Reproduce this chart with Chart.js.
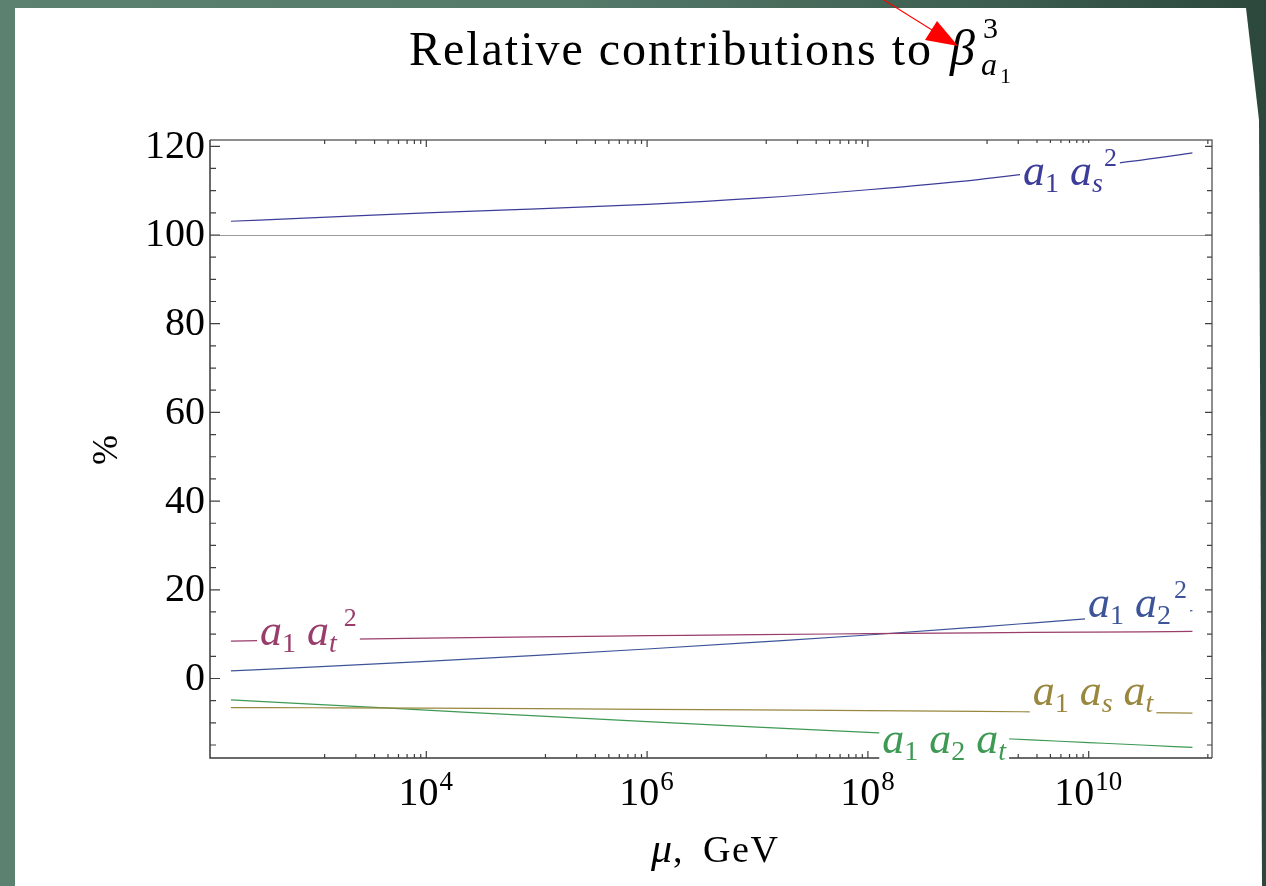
<!DOCTYPE html>
<html>
<head>
<meta charset="utf-8">
<script src="https://cdn.jsdelivr.net/npm/chart.js@4.4.0/dist/chart.umd.min.js"></script>
<style>
html,body{margin:0;padding:0;width:1266px;height:886px;overflow:hidden;background:#4c7262;}
#bg{position:absolute;left:0;top:0;width:1266px;height:886px;background:linear-gradient(90deg,#5c8171 0%,#557a6a 45%,#3b5c4e 80%,#2c483c 100%);}
#panel{position:absolute;left:0;top:0;width:1266px;height:886px;background:#fff;
  clip-path:polygon(15px 8px,1246px 8px,1259px 120px,1262px 886px,15px 886px);}
#c{position:absolute;left:0;top:0;}
</style>
</head>
<body>
<div id="bg"></div>
<div id="panel"></div>
<canvas id="c" width="1266" height="886"></canvas>
<script>
// ---------------- data ----------------
const mu      = [170, 1e3, 1e4, 1e5, 1e6, 1e7, 1e8, 1e9, 3e9, 1e10, 3e10, 8.7e10]; // GeV
const a1as2   = [103.1, 103.9, 105.0, 105.9, 106.9, 108.3, 110.2, 112.5, 113.9, 115.5, 116.9, 118.5];
const a1at2   = [8.42, 8.75, 9.1, 9.4, 9.65, 9.9, 10.1, 10.3, 10.38, 10.45, 10.52, 10.6];
const a1a22   = [1.73, 2.6, 3.84, 5.2, 6.65, 8.2, 9.8, 11.6, 12.5, 13.5, 14.4, 15.3];
const a1asat  = [-6.55, -6.6, -6.68, -6.8, -6.95, -7.1, -7.25, -7.42, -7.52, -7.63, -7.7, -7.8];
const a1a2at  = [-4.81, -5.83, -7.14, -8.45, -9.72, -10.95, -12.15, -13.3, -13.85, -14.45, -15.0, -15.55];
const refLine = 100;
const yMajorTicks = [0, 20, 40, 60, 80, 100, 120];
const yMinorTicks = [-15,-10,-5,5,10,15,25,30,35,45,50,55,65,70,75,85,90,95,105,110,115];
const xMajorExp = [4, 6, 8, 10];

// ---------------- styles ----------------
const SERIF = '"Liberation Serif","Times New Roman",serif';
const font = (s, it) => (it ? 'italic ' : '') + s + 'px ' + SERIF;
const COLORS = ['#3d3d99', '#993d6b', '#3d5499', '#99873d', '#3d9954'];

const seriesList = [a1as2, a1at2, a1a22, a1asat, a1a2at];
const datasets = seriesList.map((s, i) => ({
  data: mu.map((m, k) => ({x: m, y: s[k]})),
  borderColor: COLORS[i], borderWidth: 1.2, pointRadius: 0, fill: false,
  cubicInterpolationMode: 'monotone'
}));

// curve labels: anchor = left end of baseline, in data coordinates
const M = 44, S = 28;
const curveLabels = [
  {c: 0, mu: 2.54e9, v: 111.27, sup: true,
   runs: [['a','m'],['1','sub'],[' ','sp'],['a','m'],['s','subi'],['2','sup',1]]},
  {c: 1, mu: 312, v: 7.55, sup: true,
   runs: [['a','m'],['1','sub'],[' ','sp'],['a','m'],['t','subi'],['2','sup',7]]},
  {c: 2, mu: 9.86e9, v: 13.93, sup: true,
   runs: [['a','m'],['1','sub'],[' ','sp'],['a','m'],['2','sub'],['2','sup',3]]},
  {c: 3, mu: 3.11e9, v: -5.98, sup: false,
   runs: [['a','m'],['1','sub'],[' ','sp'],['a','m'],['s','subi'],[' ','sp'],['a','m'],['t','subi']]},
  {c: 4, mu: 1.35e8, v: -16.73, sup: false,
   runs: [['a','m'],['1','sub'],[' ','sp'],['a','m'],['2','sub'],[' ','sp'],['a','m'],['t','subi']]}
];
const runStyle = {
  m:   {f: font(M, true),  dy: 0},
  sp:  {f: font(M, false), dy: 0},
  sub: {f: font(S, false), dy: 7},
  subi:{f: font(S, true),  dy: 7},
  sup: {f: font(26, false), dy: -19}
};

function measureRuns(ctx, runs) {
  let w = 0;
  for (const r of runs) { ctx.font = runStyle[r[1]].f; w += ctx.measureText(r[0]).width + (r[2] || 0); }
  return w;
}
function drawRuns(ctx, runs, x, y) {
  let cx = x;
  for (const r of runs) {
    const st = runStyle[r[1]];
    cx += (r[2] || 0);
    ctx.font = st.f;
    ctx.fillText(r[0], cx, y + st.dy);
    cx += ctx.measureText(r[0]).width;
  }
  return cx;
}
function spaced(ctx, text, x, y, targetW) {
  const w = ctx.measureText(text).width;
  const chars = Array.from(text);
  const sp = chars.length > 1 ? (targetW - w) / (chars.length - 1) : 0;
  let cx = x;
  for (const ch of chars) { ctx.fillText(ch, cx, y); cx += ctx.measureText(ch).width + sp; }
  return cx;
}

const deco = {
  id: 'deco',
  beforeDatasetsDraw(chart) {
    const {ctx, chartArea: a, scales: {y}} = chart;
    const py = Math.round(y.getPixelForValue(refLine)) + 0.5;
    ctx.save();
    ctx.strokeStyle = '#9a9a9a'; ctx.lineWidth = 1.2;
    ctx.beginPath(); ctx.moveTo(a.left, py); ctx.lineTo(a.right, py); ctx.stroke();
    ctx.restore();
  },
  afterDatasetsDraw(chart) {
    const {ctx, chartArea: a, scales: {x, y}} = chart;
    ctx.save();
    // frame
    ctx.lineWidth = 1.5;
    ctx.strokeStyle = '#6a6a6a';
    ctx.beginPath();
    ctx.moveTo(a.left, a.top); ctx.lineTo(a.right, a.top); ctx.lineTo(a.right, a.bottom);
    ctx.stroke();
    ctx.strokeStyle = '#3a3a3a';
    ctx.beginPath();
    ctx.moveTo(a.left, a.top); ctx.lineTo(a.left, a.bottom); ctx.lineTo(a.right, a.bottom);
    ctx.stroke();
    // y ticks
    ctx.strokeStyle = '#404040'; ctx.lineWidth = 1.2;
    const tickY = (v, lenL, lenR) => {
      const py = y.getPixelForValue(v);
      if (py < a.top + 1 || py > a.bottom - 1) return;
      ctx.beginPath();
      ctx.moveTo(a.left, py); ctx.lineTo(a.left + lenL, py);
      ctx.moveTo(a.right, py); ctx.lineTo(a.right - lenR, py);
      ctx.stroke();
    };
    yMajorTicks.forEach(v => tickY(v, 10, 7));
    yMinorTicks.forEach(v => tickY(v, 6, 5));
    // x ticks
    const tickX = (v, len) => {
      const px = x.getPixelForValue(v);
      if (px < a.left + 2 || px > a.right - 3) return;
      ctx.beginPath();
      ctx.moveTo(px, a.bottom); ctx.lineTo(px, a.bottom - len);
      ctx.moveTo(px, a.top); ctx.lineTo(px, a.top + len);
      ctx.stroke();
    };
    xMajorExp.forEach(e => tickX(Math.pow(10, e), 7));
    for (let e = xMajorExp[0] - 2; e <= xMajorExp[xMajorExp.length - 1]; e += 2) {
      const lo = Math.pow(10, e), hi = Math.pow(10, e + 2);
      for (let m = 1; m <= 8; m++) tickX(lo + m * (hi - lo) / 9, 4);
    }
    // y tick labels
    ctx.fillStyle = '#000';
    ctx.font = font(40, false); ctx.textAlign = 'right'; ctx.textBaseline = 'middle';
    yMajorTicks.forEach(v => ctx.fillText(String(v), a.left - 5, y.getPixelForValue(v) + 1));
    // x tick labels 10^n
    ctx.textAlign = 'left'; ctx.textBaseline = 'alphabetic';
    xMajorExp.forEach(e => {
      const px = x.getPixelForValue(Math.pow(10, e));
      ctx.font = font(40, false); const wb = ctx.measureText('10').width;
      ctx.font = font(27, false); const we = ctx.measureText(String(e)).width;
      const x0 = px - (wb + we) / 2 - 1;
      ctx.font = font(40, false); ctx.fillText('10', x0, a.bottom + 47);
      ctx.font = font(27, false); ctx.fillText(String(e), x0 + wb + 1, a.bottom + 32);
    });
    // curve labels
    curveLabels.forEach(L => {
      const px = x.getPixelForValue(L.mu), py = y.getPixelForValue(L.v);
      const w = measureRuns(ctx, L.runs);
      ctx.fillStyle = '#fff';
      const top = py - (L.sup ? 42 : 28);
      ctx.fillRect(px - 3, top, w + 6, py + 10 - top);
      ctx.fillStyle = COLORS[L.c];
      drawRuns(ctx, L.runs, px, py);
    });
    // axis labels
    ctx.fillStyle = '#000';
    ctx.font = font(42, true);
    ctx.fillText('\u03bc', 651, 861.7);
    const muEnd = 651 + ctx.measureText('\u03bc').width;
    ctx.font = font(38, false);
    ctx.fillText(',', muEnd + 1, 861.7);
    spaced(ctx, 'GeV', 703, 861.7, 75);
    ctx.save();
    ctx.translate(108, 450); ctx.rotate(-Math.PI / 2);
    ctx.font = font(36, false); ctx.textAlign = 'center'; ctx.textBaseline = 'middle';
    ctx.fillText('%', 0, 0);
    ctx.restore();
    // title
    ctx.textAlign = 'left'; ctx.textBaseline = 'alphabetic';
    ctx.font = font(48, false);
    spaced(ctx, 'Relative contributions to', 409, 65, 522);
    ctx.font = font(50, true); ctx.fillText('\u03b2', 950, 65);
    ctx.font = font(30, false); ctx.fillText('3', 983, 38);
    ctx.font = font(32, true); ctx.fillText('a', 981, 75);
    ctx.font = font(22, false); ctx.fillText('1', 1000, 83);
    // red arrow
    ctx.strokeStyle = '#ff0000'; ctx.lineWidth = 1.1;
    ctx.beginPath(); ctx.moveTo(884, 0); ctx.lineTo(932, 30); ctx.stroke();
    ctx.fillStyle = '#ff0000';
    ctx.beginPath(); ctx.moveTo(937, 21); ctx.lineTo(925, 40); ctx.lineTo(958, 46); ctx.closePath(); ctx.fill();
    ctx.restore();
  }
};

new Chart(document.getElementById('c'), {
  type: 'line',
  data: {datasets},
  options: {
    responsive: false, animation: false, devicePixelRatio: 1,
    layout: {padding: {left: 210, right: 54, top: 140, bottom: 128}},
    plugins: {legend: {display: false}, tooltip: {enabled: false}, title: {display: false}},
    scales: {
      x: {type: 'logarithmic', display: false, min: Math.pow(10, 2.0408), max: Math.pow(10, 11.1168)},
      y: {type: 'linear', display: false, min: -17.93, max: 121.42}
    }
  },
  plugins: [deco]
});
</script>
</body>
</html>
